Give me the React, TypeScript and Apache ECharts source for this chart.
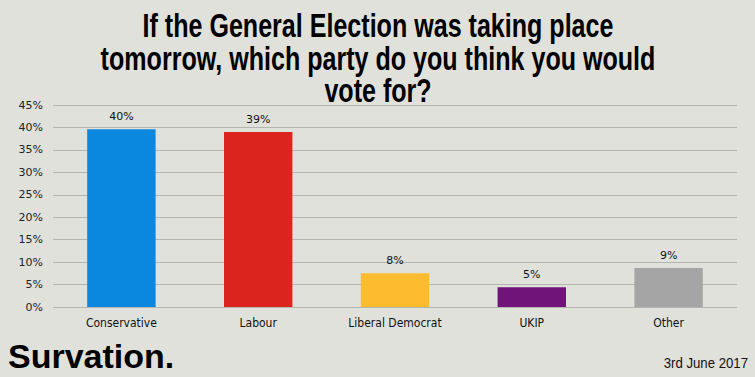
import React, { useEffect, useRef } from "react";
import * as echarts from "echarts";

const categories = ["Conservative", "Labour", "Liberal Democrat", "UKIP", "Other"];
const values = [39.6, 39.0, 7.5, 4.4, 8.7];
const labels = ["40%", "39%", "8%", "5%", "9%"];
const colors = ["#0a87de", "#dc241f", "#fdbb30", "#70147a", "#a5a5a5"];
const titleLines = [
  "If the General Election was taking place",
  "tomorrow, which party do you think you would",
  "vote for?",
];

export default function App() {
  const ref = useRef<HTMLDivElement>(null);
  useEffect(() => {
    document.body.style.margin = "0";
    const chart = echarts.init(ref.current!, null, { renderer: "svg" });
    chart.setOption({
      animation: false,
      backgroundColor: "#e1e1dc",
      grid: { left: 53, right: 18, top: 105, bottom: 70 },
      xAxis: {
        type: "category",
        data: categories,
        axisLine: { show: false },
        axisTick: { show: false },
        axisLabel: {
          color: "#111",
          fontFamily: "'DejaVu Sans Condensed', 'Liberation Sans', sans-serif",
          fontSize: 12,
          margin: 10,
        },
      },
      yAxis: {
        type: "value",
        min: 0,
        max: 45,
        interval: 5,
        axisLine: { show: false },
        axisTick: { show: false },
        splitLine: { lineStyle: { color: "#b5b5b0", width: 1 } },
        axisLabel: {
          color: "#222",
          fontFamily: "'DejaVu Sans', sans-serif",
          fontSize: 11,
          margin: 10,
          formatter: "{value}%",
        },
      },
      series: [
        {
          type: "bar",
          barWidth: "50%",
          data: values.map((v, i) => ({ value: v, itemStyle: { color: colors[i] } })),
          label: {
            show: true,
            position: "top",
            distance: 7,
            color: "#111",
            fontFamily: "'DejaVu Sans', sans-serif",
            fontSize: 11,
            formatter: (p: any) => labels[p.dataIndex],
          },
        },
      ],
      graphic: [
        {
          type: "text",
          x: 378,
          y: 9,
          scaleX: 0.76,
          style: {
            text: titleLines.join("\n"),
            fontFamily: "'Liberation Sans', sans-serif",
            fontWeight: "bold",
            fontSize: 33,
            lineHeight: 32.5,
            fill: "#000",
            align: "center",
            verticalAlign: "top",
          },
        },
        {
          type: "text",
          x: 8,
          y: 339,
          style: {
            text: "Survation.",
            fontFamily: "'Liberation Sans', sans-serif",
            fontWeight: "bold",
            fontSize: 34,
            fill: "#000",
            align: "left",
            verticalAlign: "top",
          },
        },
        {
          type: "text",
          x: 748,
          y: 355,
          scaleX: 0.88,
          style: {
            text: "3rd June 2017",
            fontFamily: "'Liberation Sans', sans-serif",
            fontSize: 15,
            fill: "#111",
            align: "right",
            verticalAlign: "top",
          },
        },
      ],
    });
    return () => chart.dispose();
  }, []);
  return <div ref={ref} style={{ width: 755, height: 377 }} />;
}
